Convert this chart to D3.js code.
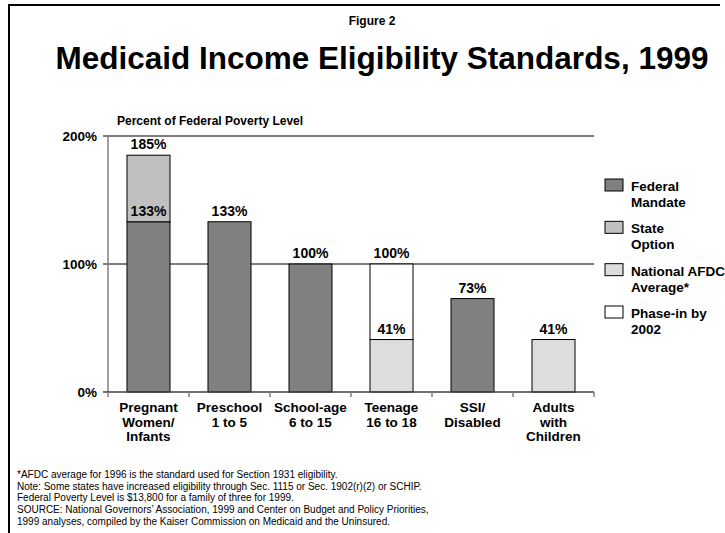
<!DOCTYPE html>
<html>
<head>
<meta charset="utf-8">
<script src="https://cdn.jsdelivr.net/npm/d3@7"></script>
<style>
  body { margin: 0; background: #fff; }
  svg { display: block; font-family: "Liberation Sans", Arial, sans-serif; }
</style>
</head>
<body>
<svg id="chart" width="725" height="533"></svg>
<script>
// categories, each as lines of the axis label
const categories = ["Pregnant Women/ Infants", "Preschool 1 to 5", "School-age 6 to 15", "Teenage 16 to 18", "SSI/ Disabled", "Adults with Children"];
const categoryLines = [["Pregnant", "Women/", "Infants"], ["Preschool", "1 to 5"], ["School-age", "6 to 15"], ["Teenage", "16 to 18"], ["SSI/", "Disabled"], ["Adults", "with", "Children"]];

// series values (% of federal poverty level), stacked in this order
const seriesNames = ["National AFDC Average*", "Federal Mandate", "State Option", "Phase-in by 2002"];
const afdcAverage = [0, 0, 0, 41, 0, 41];
const federalMandate = [133, 133, 100, 0, 73, 0];
const stateOption = [52, 0, 0, 0, 0, 0];
const phaseIn = [0, 0, 0, 59, 0, 0];

// value labels shown above segments
const valueLabels = [
  { cat: 0, value: 133 }, { cat: 0, value: 185 },
  { cat: 1, value: 133 }, { cat: 2, value: 100 },
  { cat: 3, value: 41 }, { cat: 3, value: 100 },
  { cat: 4, value: 73 }, { cat: 5, value: 41 }
];

const yTicks = [0, 100, 200];
const legendOrder = ["Federal Mandate", "State Option", "National AFDC Average*", "Phase-in by 2002"];
const legendLines = [["Federal", "Mandate"], ["State", "Option"], ["National AFDC", "Average*"], ["Phase-in by", "2002"]];

const footnotes = [
  "*AFDC average for 1996 is the standard used for Section 1931 eligibility.",
  "Note: Some states have increased eligibility through Sec. 1115 or Sec. 1902(r)(2) or SCHIP.",
  "Federal Poverty Level is $13,800 for a family of three for 1999.",
  "SOURCE: National Governors\u2019 Association, 1999 and Center on Budget and Policy Priorities,",
  "1999 analyses, compiled by the Kaiser Commission on Medicaid and the Uninsured."
];

const colors = {
  "Federal Mandate": "#808080",
  "State Option": "#c0c0c0",
  "National AFDC Average*": "#dddddd",
  "Phase-in by 2002": "#ffffff"
};

const svg = d3.select("#chart");
const plotLeft = 108, plotRight = 594, plotTop = 136, plotBottom = 392;

// frame
svg.append("line").attr("x1", 8).attr("x2", 720).attr("y1", 5).attr("y2", 5)
  .attr("stroke", "#000").attr("stroke-width", 2);
svg.append("line").attr("x1", 9).attr("x2", 9).attr("y1", 4).attr("y2", 533)
  .attr("stroke", "#000").attr("stroke-width", 2);

// titles
svg.append("text").attr("x", 372).attr("y", 25).attr("text-anchor", "middle")
  .attr("font-size", 12).attr("font-weight", "bold").text("Figure 2");
svg.append("text").attr("x", 382).attr("y", 69).attr("text-anchor", "middle")
  .attr("font-size", 31.5).attr("font-weight", "bold").text("Medicaid Income Eligibility Standards, 1999");
svg.append("text").attr("x", 117).attr("y", 125)
  .attr("font-size", 12).attr("font-weight", "bold").text("Percent of Federal Poverty Level");

const x = d3.scaleBand().domain(categories).range([plotLeft, plotRight])
  .paddingInner(0.469).paddingOuter(0.2345);
const y = d3.scaleLinear().domain([0, 200]).range([plotBottom, plotTop]);

// gridlines + left ticks
svg.append("g").selectAll("line").data(yTicks.filter(d => d > 0)).join("line")
  .attr("x1", plotLeft - 5).attr("x2", plotRight)
  .attr("y1", d => y(d)).attr("y2", d => y(d))
  .attr("stroke", "#000").attr("stroke-width", 1);

svg.append("g").selectAll("text").data(yTicks).join("text")
  .attr("x", 97).attr("y", d => y(d) + 5)
  .attr("text-anchor", "end").attr("font-size", 13.5).attr("font-weight", "bold")
  .text(d => d + "%");

// stacked bars
const rows = categories.map((c, i) => ({
  cat: c,
  "National AFDC Average*": afdcAverage[i],
  "Federal Mandate": federalMandate[i],
  "State Option": stateOption[i],
  "Phase-in by 2002": phaseIn[i]
}));
const stack = d3.stack().keys(seriesNames)(rows);

svg.append("g").selectAll("g").data(stack).join("g")
  .attr("fill", d => colors[d.key])
  .selectAll("rect").data(d => d.filter(s => s[1] > s[0])).join("rect")
  .attr("x", d => x(d.data.cat))
  .attr("width", x.bandwidth())
  .attr("y", d => y(d[1]))
  .attr("height", d => y(d[0]) - y(d[1]))
  .attr("stroke", "#000").attr("stroke-width", 1);

// axes lines
svg.append("line").attr("x1", plotLeft).attr("x2", plotLeft).attr("y1", plotTop).attr("y2", plotBottom)
  .attr("stroke", "#808080").attr("stroke-width", 1.5);
svg.append("line").attr("x1", plotLeft - 5).attr("x2", plotRight).attr("y1", plotBottom).attr("y2", plotBottom)
  .attr("stroke", "#404040").attr("stroke-width", 1.5);
const boundaries = categories.map(c => x(c) - x.step() * x.paddingOuter()).concat([plotRight]);
svg.append("g").selectAll("line").data(boundaries).join("line")
  .attr("x1", d => d).attr("x2", d => d).attr("y1", plotBottom).attr("y2", plotBottom + 5)
  .attr("stroke", "#808080").attr("stroke-width", 1.5);

// value labels
svg.append("g").selectAll("text").data(valueLabels).join("text")
  .attr("x", d => x(categories[d.cat]) + x.bandwidth() / 2)
  .attr("y", d => y(d.value) - 6)
  .attr("text-anchor", "middle").attr("font-size", 14).attr("font-weight", "bold")
  .text(d => d.value + "%");

// category labels
categoryLines.forEach((lines, i) => {
  const t = svg.append("text")
    .attr("x", x(categories[i]) + x.bandwidth() / 2).attr("y", 412)
    .attr("text-anchor", "middle").attr("font-size", 13.5).attr("font-weight", "bold");
  lines.forEach((l, j) => {
    t.append("tspan").attr("x", x(categories[i]) + x.bandwidth() / 2)
      .attr("dy", j === 0 ? 0 : 14.5).text(l);
  });
});

// legend
const legendY = d3.scalePoint().domain(legendOrder).range([179, 306]);
const lg = svg.append("g").selectAll("g").data(legendOrder).join("g")
  .attr("transform", d => `translate(605,${legendY(d)})`);
lg.append("rect").attr("width", 18).attr("height", 12)
  .attr("fill", d => colors[d]).attr("stroke", "#000").attr("stroke-width", 1);
lg.append("text").attr("font-size", 13.5).attr("font-weight", "bold")
  .selectAll("tspan").data((d, i) => legendLines[i]).join("tspan")
  .attr("x", 26).attr("y", (d, j) => 12 + j * 16).text(d => d);

// footnotes
svg.append("g").selectAll("text").data(footnotes).join("text")
  .attr("x", 17).attr("y", (d, i) => 478 + i * 11.7)
  .attr("font-size", 10).text(d => d);
</script>
</body>
</html>
